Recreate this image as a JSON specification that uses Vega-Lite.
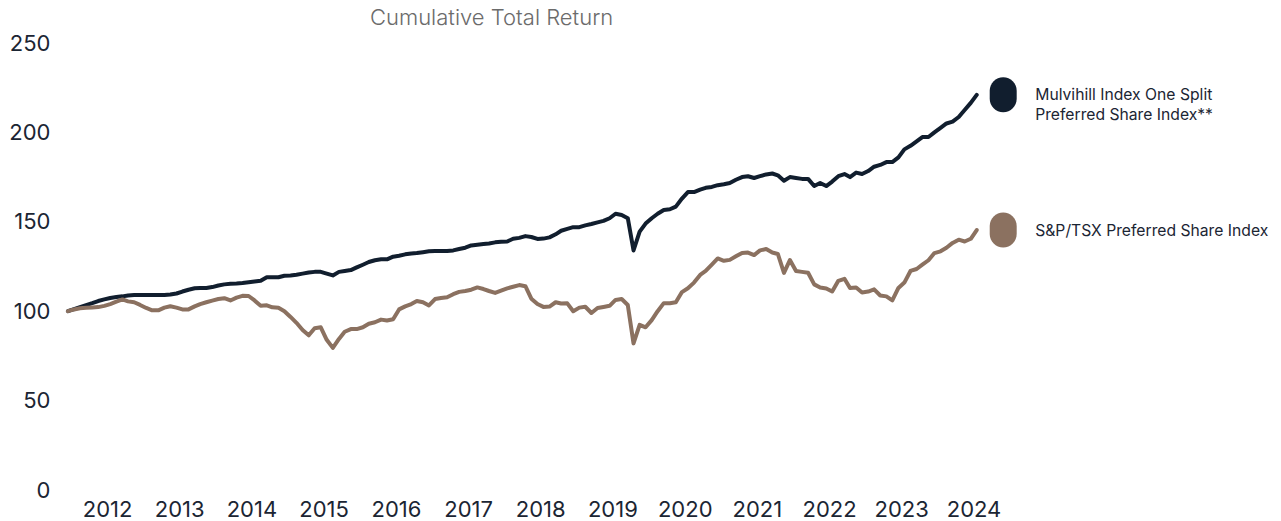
{
  "$schema": "https://vega.github.io/schema/vega-lite/v6.json",
  "autosize": {"type": "none"},
  "width": 993,
  "height": 447,
  "padding": {"left": 62, "top": 43, "right": 226, "bottom": 31},
  "background": "white",
  "config": {"view": {"stroke": null}, "font": "Inter"},
  "title": {"text": "Cumulative Total Return", "anchor": "start", "frame": "group", "dx": 308, "offset": 2, "fontSize": 22, "fontWeight": 300, "color": "#6b6b6b", "font": "Inter"},
  "datasets": {
    "labels": [
      {"series": "mulvihill", "label": "Mulvihill Index One Split\nPreferred Share Index**"},
      {"series": "tsx", "label": "S&P/TSX Preferred Share Index"}
    ]
  },
  "data": {"values": [
    {"date":"2012-05-01","mulvihill":100,"tsx":100},
    {"date":"2012-06-01","mulvihill":101.2,"tsx":101},
    {"date":"2012-07-01","mulvihill":102.3,"tsx":101.6},
    {"date":"2012-08-01","mulvihill":103.4,"tsx":101.9},
    {"date":"2012-09-01","mulvihill":104.5,"tsx":102.1},
    {"date":"2012-10-01","mulvihill":105.7,"tsx":102.3},
    {"date":"2012-11-01","mulvihill":106.6,"tsx":103},
    {"date":"2012-12-01","mulvihill":107.4,"tsx":104},
    {"date":"2013-01-01","mulvihill":107.9,"tsx":105.3},
    {"date":"2013-02-01","mulvihill":108.3,"tsx":106.6},
    {"date":"2013-03-01","mulvihill":108.8,"tsx":105.5},
    {"date":"2013-04-01","mulvihill":109,"tsx":105},
    {"date":"2013-05-01","mulvihill":109,"tsx":103.5},
    {"date":"2013-06-01","mulvihill":109,"tsx":101.8},
    {"date":"2013-07-01","mulvihill":109,"tsx":100.5},
    {"date":"2013-08-01","mulvihill":109,"tsx":100.5},
    {"date":"2013-09-01","mulvihill":109,"tsx":102},
    {"date":"2013-10-01","mulvihill":109.3,"tsx":102.8},
    {"date":"2013-11-01","mulvihill":109.9,"tsx":102},
    {"date":"2013-12-01","mulvihill":111,"tsx":101},
    {"date":"2014-01-01","mulvihill":112,"tsx":101},
    {"date":"2014-02-01","mulvihill":112.8,"tsx":102.7},
    {"date":"2014-03-01","mulvihill":113,"tsx":104},
    {"date":"2014-04-01","mulvihill":113,"tsx":105},
    {"date":"2014-05-01","mulvihill":113.5,"tsx":105.9},
    {"date":"2014-06-01","mulvihill":114.4,"tsx":106.8},
    {"date":"2014-07-01","mulvihill":115,"tsx":107.3},
    {"date":"2014-08-01","mulvihill":115.3,"tsx":106},
    {"date":"2014-09-01","mulvihill":115.5,"tsx":107.6},
    {"date":"2014-10-01","mulvihill":115.8,"tsx":108.6},
    {"date":"2014-11-01","mulvihill":116.2,"tsx":108.5},
    {"date":"2014-12-01","mulvihill":116.6,"tsx":106},
    {"date":"2015-01-01","mulvihill":117,"tsx":103},
    {"date":"2015-02-01","mulvihill":119,"tsx":103.3},
    {"date":"2015-03-01","mulvihill":119,"tsx":102.2},
    {"date":"2015-04-01","mulvihill":119,"tsx":101.9},
    {"date":"2015-05-01","mulvihill":119.8,"tsx":100},
    {"date":"2015-06-01","mulvihill":120,"tsx":96.8},
    {"date":"2015-07-01","mulvihill":120.4,"tsx":93.5},
    {"date":"2015-08-01","mulvihill":121,"tsx":89.5},
    {"date":"2015-09-01","mulvihill":121.6,"tsx":86.5},
    {"date":"2015-10-01","mulvihill":122,"tsx":90.5},
    {"date":"2015-11-01","mulvihill":122,"tsx":91},
    {"date":"2015-12-01","mulvihill":121,"tsx":84},
    {"date":"2016-01-01","mulvihill":120,"tsx":79.5},
    {"date":"2016-02-01","mulvihill":122,"tsx":84.5},
    {"date":"2016-03-01","mulvihill":122.5,"tsx":88.5},
    {"date":"2016-04-01","mulvihill":123,"tsx":90},
    {"date":"2016-05-01","mulvihill":124.5,"tsx":90},
    {"date":"2016-06-01","mulvihill":126,"tsx":91},
    {"date":"2016-07-01","mulvihill":127.5,"tsx":93},
    {"date":"2016-08-01","mulvihill":128.5,"tsx":93.8},
    {"date":"2016-09-01","mulvihill":129,"tsx":95.3},
    {"date":"2016-10-01","mulvihill":129,"tsx":94.8},
    {"date":"2016-11-01","mulvihill":130.5,"tsx":95.5},
    {"date":"2016-12-01","mulvihill":131,"tsx":101},
    {"date":"2017-01-01","mulvihill":131.8,"tsx":102.7},
    {"date":"2017-02-01","mulvihill":132.3,"tsx":104},
    {"date":"2017-03-01","mulvihill":132.5,"tsx":105.7},
    {"date":"2017-04-01","mulvihill":133,"tsx":105},
    {"date":"2017-05-01","mulvihill":133.5,"tsx":103.2},
    {"date":"2017-06-01","mulvihill":133.7,"tsx":106.8},
    {"date":"2017-07-01","mulvihill":133.7,"tsx":107.4},
    {"date":"2017-08-01","mulvihill":133.7,"tsx":107.8},
    {"date":"2017-09-01","mulvihill":134,"tsx":109.5},
    {"date":"2017-10-01","mulvihill":134.8,"tsx":110.8},
    {"date":"2017-11-01","mulvihill":135.5,"tsx":111.3},
    {"date":"2017-12-01","mulvihill":136.8,"tsx":112},
    {"date":"2018-01-01","mulvihill":137.2,"tsx":113.3},
    {"date":"2018-02-01","mulvihill":137.6,"tsx":112.4},
    {"date":"2018-03-01","mulvihill":137.9,"tsx":111.3},
    {"date":"2018-04-01","mulvihill":138.5,"tsx":110.2},
    {"date":"2018-05-01","mulvihill":138.8,"tsx":111.5},
    {"date":"2018-06-01","mulvihill":139,"tsx":112.8},
    {"date":"2018-07-01","mulvihill":140.5,"tsx":113.7},
    {"date":"2018-08-01","mulvihill":141,"tsx":114.6},
    {"date":"2018-09-01","mulvihill":142,"tsx":114},
    {"date":"2018-10-01","mulvihill":141.5,"tsx":107},
    {"date":"2018-11-01","mulvihill":140.4,"tsx":104},
    {"date":"2018-12-01","mulvihill":140.6,"tsx":102.4},
    {"date":"2019-01-01","mulvihill":141.3,"tsx":102.6},
    {"date":"2019-02-01","mulvihill":143,"tsx":105},
    {"date":"2019-03-01","mulvihill":145,"tsx":104.3},
    {"date":"2019-04-01","mulvihill":146,"tsx":104.4},
    {"date":"2019-05-01","mulvihill":147,"tsx":100},
    {"date":"2019-06-01","mulvihill":147,"tsx":102},
    {"date":"2019-07-01","mulvihill":148,"tsx":102.5},
    {"date":"2019-08-01","mulvihill":148.8,"tsx":99},
    {"date":"2019-09-01","mulvihill":149.7,"tsx":101.8},
    {"date":"2019-10-01","mulvihill":150.5,"tsx":102.4},
    {"date":"2019-11-01","mulvihill":152,"tsx":103},
    {"date":"2019-12-01","mulvihill":154.5,"tsx":106.3},
    {"date":"2020-01-01","mulvihill":153.8,"tsx":106.8},
    {"date":"2020-02-01","mulvihill":152,"tsx":103.5},
    {"date":"2020-03-01","mulvihill":134,"tsx":82},
    {"date":"2020-04-01","mulvihill":144.5,"tsx":92.4},
    {"date":"2020-05-01","mulvihill":149,"tsx":91},
    {"date":"2020-06-01","mulvihill":152,"tsx":95},
    {"date":"2020-07-01","mulvihill":154.5,"tsx":100},
    {"date":"2020-08-01","mulvihill":156.6,"tsx":104.5},
    {"date":"2020-09-01","mulvihill":157,"tsx":104.5},
    {"date":"2020-10-01","mulvihill":158.5,"tsx":105},
    {"date":"2020-11-01","mulvihill":163,"tsx":110.7},
    {"date":"2020-12-01","mulvihill":166.6,"tsx":112.8},
    {"date":"2021-01-01","mulvihill":166.6,"tsx":116},
    {"date":"2021-02-01","mulvihill":168,"tsx":120.3},
    {"date":"2021-03-01","mulvihill":169,"tsx":122.5},
    {"date":"2021-04-01","mulvihill":169.5,"tsx":126},
    {"date":"2021-05-01","mulvihill":170.5,"tsx":129.5},
    {"date":"2021-06-01","mulvihill":171,"tsx":128.2},
    {"date":"2021-07-01","mulvihill":171.7,"tsx":128.7},
    {"date":"2021-08-01","mulvihill":173.5,"tsx":130.7},
    {"date":"2021-09-01","mulvihill":175,"tsx":132.6},
    {"date":"2021-10-01","mulvihill":175.5,"tsx":132.8},
    {"date":"2021-11-01","mulvihill":174.5,"tsx":131.4},
    {"date":"2021-12-01","mulvihill":175.5,"tsx":134},
    {"date":"2022-01-01","mulvihill":176.5,"tsx":134.8},
    {"date":"2022-02-01","mulvihill":177,"tsx":132.8},
    {"date":"2022-03-01","mulvihill":176,"tsx":132},
    {"date":"2022-04-01","mulvihill":173,"tsx":121.4},
    {"date":"2022-05-01","mulvihill":175,"tsx":128.6},
    {"date":"2022-06-01","mulvihill":174.5,"tsx":122.5},
    {"date":"2022-07-01","mulvihill":174,"tsx":122},
    {"date":"2022-08-01","mulvihill":174,"tsx":121.5},
    {"date":"2022-09-01","mulvihill":170,"tsx":115},
    {"date":"2022-10-01","mulvihill":171.7,"tsx":113.2},
    {"date":"2022-11-01","mulvihill":170,"tsx":112.7},
    {"date":"2022-12-01","mulvihill":172.5,"tsx":111},
    {"date":"2023-01-01","mulvihill":175.5,"tsx":117},
    {"date":"2023-02-01","mulvihill":176.7,"tsx":118.1},
    {"date":"2023-03-01","mulvihill":175,"tsx":113},
    {"date":"2023-04-01","mulvihill":177.5,"tsx":113.3},
    {"date":"2023-05-01","mulvihill":176.7,"tsx":110.5},
    {"date":"2023-06-01","mulvihill":178.4,"tsx":111},
    {"date":"2023-07-01","mulvihill":180.8,"tsx":112.2},
    {"date":"2023-08-01","mulvihill":181.8,"tsx":108.8},
    {"date":"2023-09-01","mulvihill":183.4,"tsx":108.3},
    {"date":"2023-10-01","mulvihill":183.4,"tsx":106},
    {"date":"2023-11-01","mulvihill":186,"tsx":113},
    {"date":"2023-12-01","mulvihill":190.5,"tsx":116},
    {"date":"2024-01-01","mulvihill":192.5,"tsx":122.5},
    {"date":"2024-02-01","mulvihill":195,"tsx":123.6},
    {"date":"2024-03-01","mulvihill":197.4,"tsx":126},
    {"date":"2024-04-01","mulvihill":197.4,"tsx":128.5},
    {"date":"2024-05-01","mulvihill":200,"tsx":132.5},
    {"date":"2024-06-01","mulvihill":202.5,"tsx":133.5},
    {"date":"2024-07-01","mulvihill":205,"tsx":135.5},
    {"date":"2024-08-01","mulvihill":206,"tsx":138.2},
    {"date":"2024-09-01","mulvihill":208.6,"tsx":140},
    {"date":"2024-10-01","mulvihill":212.5,"tsx":139},
    {"date":"2024-11-01","mulvihill":216.5,"tsx":140.5},
    {"date":"2024-12-01","mulvihill":221,"tsx":145.4}
  ]},
  "transform": [
    {"fold": ["mulvihill", "tsx"], "as": ["series", "value"]}
  ],
  "encoding": {
    "y": {
      "field": "value", "type": "quantitative",
      "scale": {"domain": [0, 250], "nice": false, "zero": true},
      "axis": {
        "values": [0, 50, 100, 150, 200, 250], "title": null, "domain": false, "ticks": false, "tickSize": 0, "grid": false,
        "labelPadding": 12, "labelFontSize": 22, "labelColor": "#1b2533", "labelFont": "Inter", "labelFlush": false
      }
    },
    "color": {
      "field": "series", "type": "nominal",
      "scale": {"domain": ["mulvihill", "tsx"], "range": ["#111e2e", "#8b7160"]},
      "legend": null
    }
  },
  "layer": [
    {
      "mark": {"type": "line", "strokeWidth": 4, "strokeJoin": "round", "strokeCap": "round"},
      "encoding": {
        "x": {
          "field": "date", "type": "temporal",
          "scale": {"type": "utc", "domain": [{"year": 2012, "month": 4, "date": 1, "utc": true}, {"year": 2026, "month": 1, "date": 1, "utc": true}]},
          "axis": {
            "values": [
              {"year": 2012, "month": 11, "date": 15, "utc": true},
              {"year": 2013, "month": 11, "date": 15, "utc": true},
              {"year": 2014, "month": 11, "date": 15, "utc": true},
              {"year": 2015, "month": 11, "date": 15, "utc": true},
              {"year": 2016, "month": 11, "date": 15, "utc": true},
              {"year": 2017, "month": 11, "date": 15, "utc": true},
              {"year": 2018, "month": 11, "date": 15, "utc": true},
              {"year": 2019, "month": 11, "date": 15, "utc": true},
              {"year": 2020, "month": 11, "date": 15, "utc": true},
              {"year": 2021, "month": 11, "date": 15, "utc": true},
              {"year": 2022, "month": 11, "date": 15, "utc": true},
              {"year": 2023, "month": 11, "date": 15, "utc": true},
              {"year": 2024, "month": 11, "date": 15, "utc": true}
            ],
            "labelExpr": "utcFormat(datum.value, '%Y')", "title": null, "domain": false, "ticks": false, "tickSize": 0, "grid": false,
            "labelPadding": 9, "labelFontSize": 22, "labelColor": "#1b2533", "labelFont": "Inter", "labelFlush": false, "labelOverlap": false
          }
        }
      }
    },
    {
      "transform": [
        {"window": [{"op": "row_number", "as": "rn"}], "groupby": ["series"], "sort": [{"field": "date", "order": "descending"}]},
        {"filter": "datum.rn == 1"}
      ],
      "mark": {"type": "point", "filled": true, "opacity": 1, "size": 1225, "strokeWidth": 0,
        "shape": "M-0.771,-0.229 A0.771,0.771 0 0 1 0.771,-0.229 L0.771,0.229 A0.771,0.771 0 0 1 -0.771,0.229 Z"},
      "encoding": {
        "x": {"datum": {"year": 2025, "month": 4, "date": 14, "utc": true}, "type": "temporal"}
      }
    },
    {
      "transform": [
        {"window": [{"op": "row_number", "as": "rn"}], "groupby": ["series"], "sort": [{"field": "date", "order": "descending"}]},
        {"filter": "datum.rn == 1"},
        {"lookup": "series", "from": {"data": {"name": "labels"}, "key": "series", "fields": ["label"]}}
      ],
      "mark": {"type": "text", "align": "left", "baseline": "alphabetic", "dx": 32, "dy": 5.5, "lineBreak": "\n", "lineHeight": 20, "fontSize": 15.7, "font": "Inter", "color": "#1b2533"},
      "encoding": {
        "x": {"datum": {"year": 2025, "month": 4, "date": 14, "utc": true}, "type": "temporal"},
        "text": {"field": "label"},
        "color": {"value": "#1b2533"}
      }
    }
  ]
}
